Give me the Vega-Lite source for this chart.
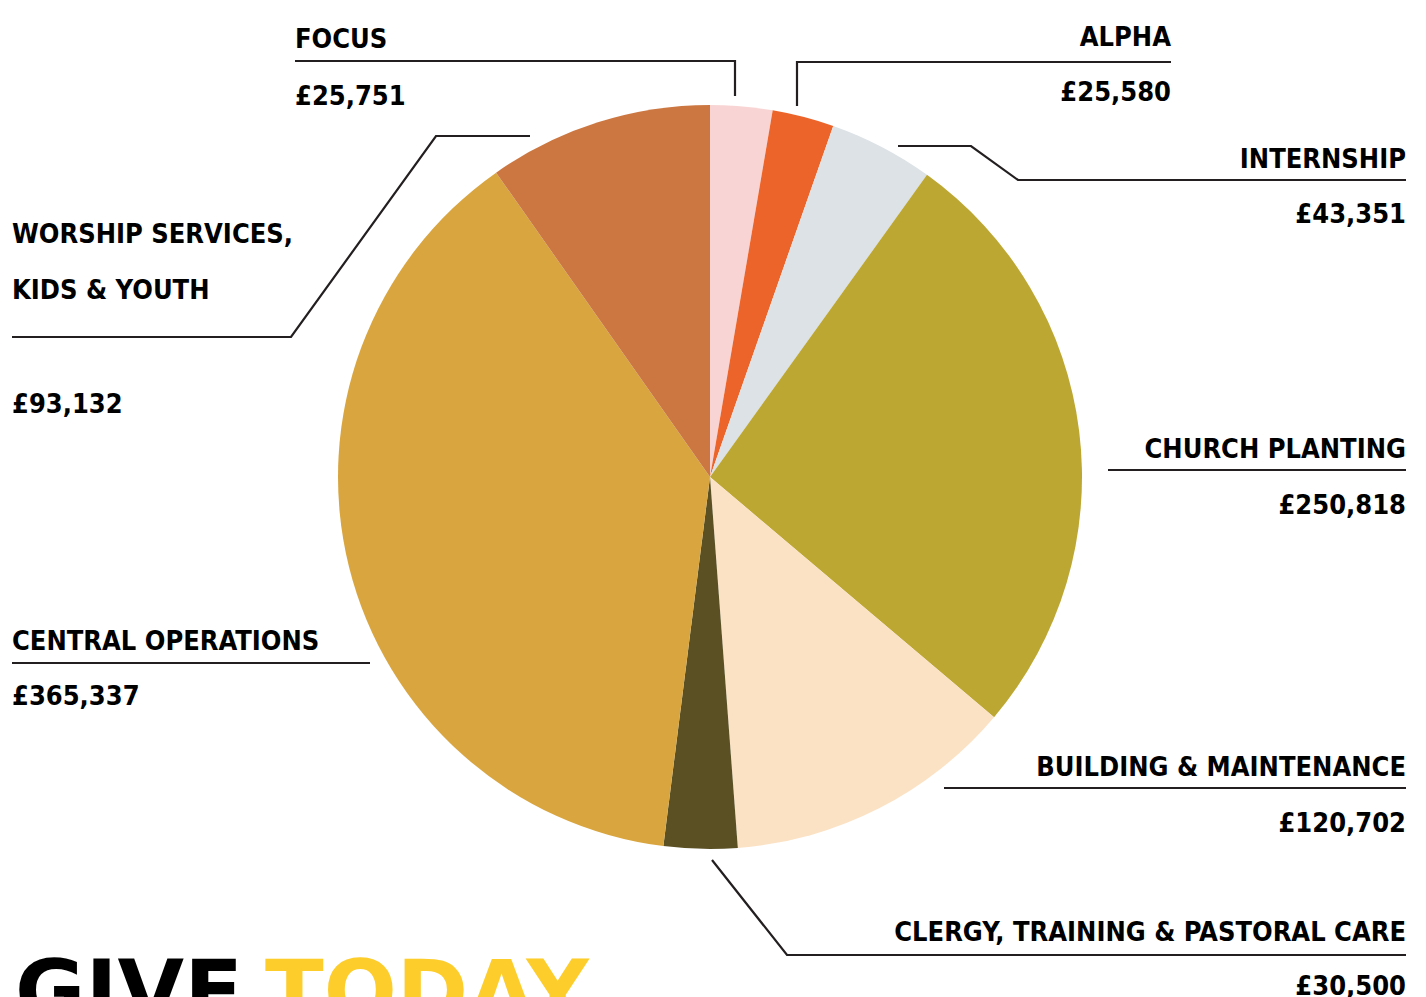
{
  "$schema": "https://vega.github.io/schema/vega-lite/v6.json",
  "width": 1426,
  "height": 997,
  "autosize": "none",
  "padding": 0,
  "background": "#ffffff",
  "config": {"view": {"stroke": null}},
  "datasets": {
    "slices": [
      {"rank": 1, "category": "Focus", "amount": 25751},
      {"rank": 2, "category": "Alpha", "amount": 25580},
      {"rank": 3, "category": "Internship", "amount": 43351},
      {"rank": 4, "category": "Church planting", "amount": 250818},
      {"rank": 5, "category": "Building & maintenance", "amount": 120702},
      {"rank": 6, "category": "Clergy, training & pastoral care", "amount": 30500},
      {"rank": 7, "category": "Central operations", "amount": 365337},
      {"rank": 8, "category": "Worship services, kids & youth", "amount": 93132}
    ],
    "leaders": [
      {"category": "Focus", "step": 1, "x": -415, "y": 416},
      {"category": "Focus", "step": 2, "x": 25, "y": 416},
      {"category": "Focus", "step": 3, "x": 25, "y": 381},
      {"category": "Alpha", "step": 1, "x": 87, "y": 371},
      {"category": "Alpha", "step": 2, "x": 87, "y": 415},
      {"category": "Alpha", "step": 3, "x": 461, "y": 415},
      {"category": "Internship", "step": 1, "x": 188, "y": 331},
      {"category": "Internship", "step": 2, "x": 261, "y": 331},
      {"category": "Internship", "step": 3, "x": 308, "y": 297},
      {"category": "Internship", "step": 4, "x": 696, "y": 297},
      {"category": "Church planting", "step": 1, "x": 398, "y": 7},
      {"category": "Church planting", "step": 2, "x": 696, "y": 7},
      {"category": "Building & maintenance", "step": 1, "x": 234, "y": -311},
      {"category": "Building & maintenance", "step": 2, "x": 696, "y": -311},
      {"category": "Clergy, training & pastoral care", "step": 1, "x": 2, "y": -383},
      {"category": "Clergy, training & pastoral care", "step": 2, "x": 77, "y": -478},
      {"category": "Clergy, training & pastoral care", "step": 3, "x": 696, "y": -478},
      {"category": "Worship services, kids & youth", "step": 1, "x": -180, "y": 341},
      {"category": "Worship services, kids & youth", "step": 2, "x": -274, "y": 341},
      {"category": "Worship services, kids & youth", "step": 3, "x": -419, "y": 140},
      {"category": "Worship services, kids & youth", "step": 4, "x": -698, "y": 140},
      {"category": "Central operations", "step": 1, "x": -698, "y": -186},
      {"category": "Central operations", "step": 2, "x": -340, "y": -186}
    ],
    "labelsLeft": [
      {"text": "FOCUS", "x": -415, "y": 429},
      {"text": "£25,751", "x": -415, "y": 372},
      {"text": "WORSHIP SERVICES,", "x": -698, "y": 234},
      {"text": "KIDS & YOUTH", "x": -698, "y": 178},
      {"text": "£93,132", "x": -698, "y": 64},
      {"text": "CENTRAL OPERATIONS", "x": -698, "y": -173},
      {"text": "£365,337", "x": -698, "y": -228}
    ],
    "labelsRight": [
      {"text": "ALPHA", "x": 461, "y": 431},
      {"text": "£25,580", "x": 461, "y": 376},
      {"text": "INTERNSHIP", "x": 696, "y": 309},
      {"text": "£43,351", "x": 696, "y": 254},
      {"text": "CHURCH PLANTING", "x": 696, "y": 19},
      {"text": "£250,818", "x": 696, "y": -37},
      {"text": "BUILDING & MAINTENANCE", "x": 696, "y": -299},
      {"text": "£120,702", "x": 696, "y": -355},
      {"text": "CLERGY, TRAINING & PASTORAL CARE", "x": 696, "y": -464},
      {"text": "£30,500", "x": 696, "y": -518}
    ],
    "headline": [
      {"word": "GIVE", "x": -695, "y": -544},
      {"word": "TODAY", "x": -445, "y": -544}
    ]
  },
  "layer": [
    {
      "data": {"name": "slices"},
      "mark": {"type": "arc", "radius": 372, "stroke": null},
      "encoding": {
        "x": {"datum": 0, "type": "quantitative", "scale": {"domain": [-710, 716], "nice": false, "zero": false}, "axis": null},
        "y": {"datum": 0, "type": "quantitative", "scale": {"domain": [-520, 477], "nice": false, "zero": false}, "axis": null},
        "theta": {"field": "amount", "type": "quantitative", "stack": true},
        "order": {"field": "rank", "type": "quantitative"},
        "color": {
          "field": "category",
          "type": "nominal",
          "legend": null,
          "scale": {
            "domain": ["Focus", "Alpha", "Internship", "Church planting", "Building & maintenance", "Clergy, training & pastoral care", "Central operations", "Worship services, kids & youth", "GIVE", "TODAY"],
            "range": ["#f8d5d4", "#ec6429", "#dce2e5", "#bda733", "#fbe2c5", "#5a5023", "#d9a53f", "#cc7741", "#000000", "#fdcd2c"]
          }
        }
      }
    },
    {
      "data": {"name": "leaders"},
      "mark": {"type": "line", "color": "#231f20", "strokeWidth": 2.2, "strokeJoin": "miter"},
      "encoding": {
        "x": {"field": "x", "type": "quantitative"},
        "y": {"field": "y", "type": "quantitative"},
        "detail": {"field": "category"},
        "order": {"field": "step", "type": "quantitative"}
      }
    },
    {
      "data": {"name": "labelsLeft"},
      "mark": {"type": "text", "align": "left", "baseline": "alphabetic", "font": "DejaVu Sans Condensed, sans-serif", "fontWeight": "bold", "fontSize": 27, "color": "#000000"},
      "encoding": {
        "x": {"field": "x", "type": "quantitative"},
        "y": {"field": "y", "type": "quantitative"},
        "text": {"field": "text"}
      }
    },
    {
      "data": {"name": "labelsRight"},
      "mark": {"type": "text", "align": "right", "baseline": "alphabetic", "font": "DejaVu Sans Condensed, sans-serif", "fontWeight": "bold", "fontSize": 27, "color": "#000000"},
      "encoding": {
        "x": {"field": "x", "type": "quantitative"},
        "y": {"field": "y", "type": "quantitative"},
        "text": {"field": "text"}
      }
    },
    {
      "data": {"name": "headline"},
      "mark": {"type": "text", "align": "left", "baseline": "alphabetic", "font": "DejaVu Sans", "fontWeight": "bold", "fontSize": 86},
      "encoding": {
        "x": {"field": "x", "type": "quantitative"},
        "y": {"field": "y", "type": "quantitative"},
        "text": {"field": "word"},
        "color": {"field": "word", "type": "nominal", "legend": null}
      }
    }
  ]
}
